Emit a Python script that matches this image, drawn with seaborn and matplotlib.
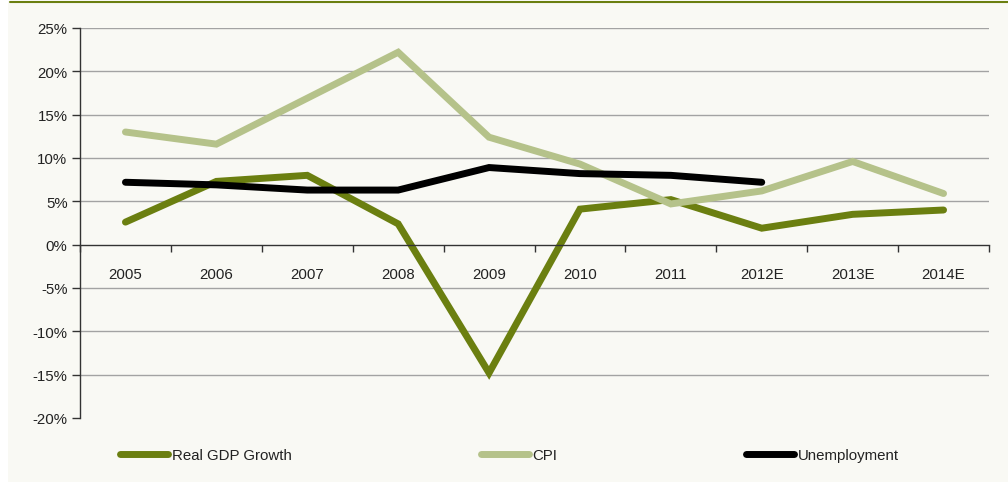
import numpy as np
import pandas as pd
import matplotlib
matplotlib.use("Agg")
import matplotlib.pyplot as plt
import seaborn as sns
from matplotlib.ticker import FuncFormatter, FixedLocator

years = ["2005", "2006", "2007", "2008", "2009", "2010", "2011", "2012E", "2013E", "2014E"]
gdp = [2.6, 7.3, 8.0, 2.4, -14.8, 4.1, 5.2, 1.9, 3.5, 4.0]
cpi = [13.0, 11.6, 16.9, 22.2, 12.4, 9.3, 4.7, 6.2, 9.6, 5.9]
unemp = [7.2, 6.9, 6.3, 6.3, 8.9, 8.2, 8.0, 7.2]
series_names = ["Real GDP Growth", "CPI", "Unemployment"]
colors = ["#6B7F10", "#B5C28A", "#000000"]
y_ticks = [-20, -15, -10, -5, 0, 5, 10, 15, 20, 25]

rows = []
for name, vals in zip(series_names, [gdp, cpi, unemp]):
    for i, v in enumerate(vals):
        rows.append({"pos": i, "year": years[i], "value": v, "series": name})
df = pd.DataFrame(rows)

sns.set_theme(style="white")
plt.rcParams["font.family"] = ["Liberation Sans", "DejaVu Sans"]

bg = "#F9F9F4"
fig = plt.figure(figsize=(10.08, 4.85), dpi=100, facecolor="white")
bg_ax = fig.add_axes([8 / 1008, 2 / 485, 1, 1 - 4 / 485], zorder=-10)
bg_ax.set_facecolor(bg)
bg_ax.set_xticks([])
bg_ax.set_yticks([])
for s in bg_ax.spines.values():
    s.set_visible(False)
fig.lines.append(matplotlib.lines.Line2D([10 / 1008, 1], [1 - 2.5 / 485, 1 - 2.5 / 485],
                                         transform=fig.transFigure, color="#6B7F10", lw=1.5))

ax = fig.add_axes([80 / 1008, 1 - 419 / 485, (989 - 80) / 1008, (419 - 29) / 485], zorder=1)
ax.set_facecolor("none")

sns.lineplot(data=df, x="pos", y="value", hue="series", hue_order=series_names,
             palette=colors, linewidth=5, ax=ax, legend=True, sort=False)
for ln in ax.lines:
    ln.set_solid_capstyle("round")
    ln.set_solid_joinstyle("miter")

ax.set_xlim(-0.5, len(years) - 0.5)
ax.set_ylim(-20, 25)
ax.set_xlabel("")
ax.set_ylabel("")

# gridlines
for v in y_ticks:
    if v not in (-20, 0):
        ax.axhline(v, color="#A3A3A3", lw=1.0, zorder=0)

ax.set_yticks(y_ticks)
ax.yaxis.set_major_formatter(FuncFormatter(lambda v, p: f"{v:.0f}%"))
ax.tick_params(axis="y", which="major", direction="out", length=6, width=1, color="#333333",
               left=True, labelsize=10.8, labelcolor="#222222", pad=3)

ax.set_xticks(range(len(years)))
ax.set_xticklabels(years)
ax.xaxis.set_minor_locator(FixedLocator(np.arange(-0.5, len(years), 1.0)))
ax.tick_params(axis="x", which="major", length=0, labelsize=10.8, labelcolor="#222222", pad=16)
ax.tick_params(axis="x", which="minor", direction="out", length=5, width=1, color="#333333", bottom=True)

for s in ["top", "right"]:
    ax.spines[s].set_visible(False)
ax.spines["left"].set_color("#333333")
ax.spines["left"].set_linewidth(1)
ax.spines["bottom"].set_position(("data", 0))
ax.spines["bottom"].set_color("#333333")
ax.spines["bottom"].set_linewidth(1)

handles, labels = ax.get_legend_handles_labels()
ax.get_legend().remove()
for h in handles:
    h.set_linewidth(5)
    h.set_solid_capstyle("round")
leg = fig.legend(handles, labels, loc="center left", bbox_to_anchor=(120 / 1008, 1 - 456 / 485),
                 ncol=3, frameon=False, fontsize=10.8, handlelength=3.2, handletextpad=0.25,
                 columnspacing=12.6, borderpad=0, borderaxespad=0)
for t in leg.get_texts():
    t.set_color("#222222")

fig.savefig("out.png", dpi=100, facecolor="white")
